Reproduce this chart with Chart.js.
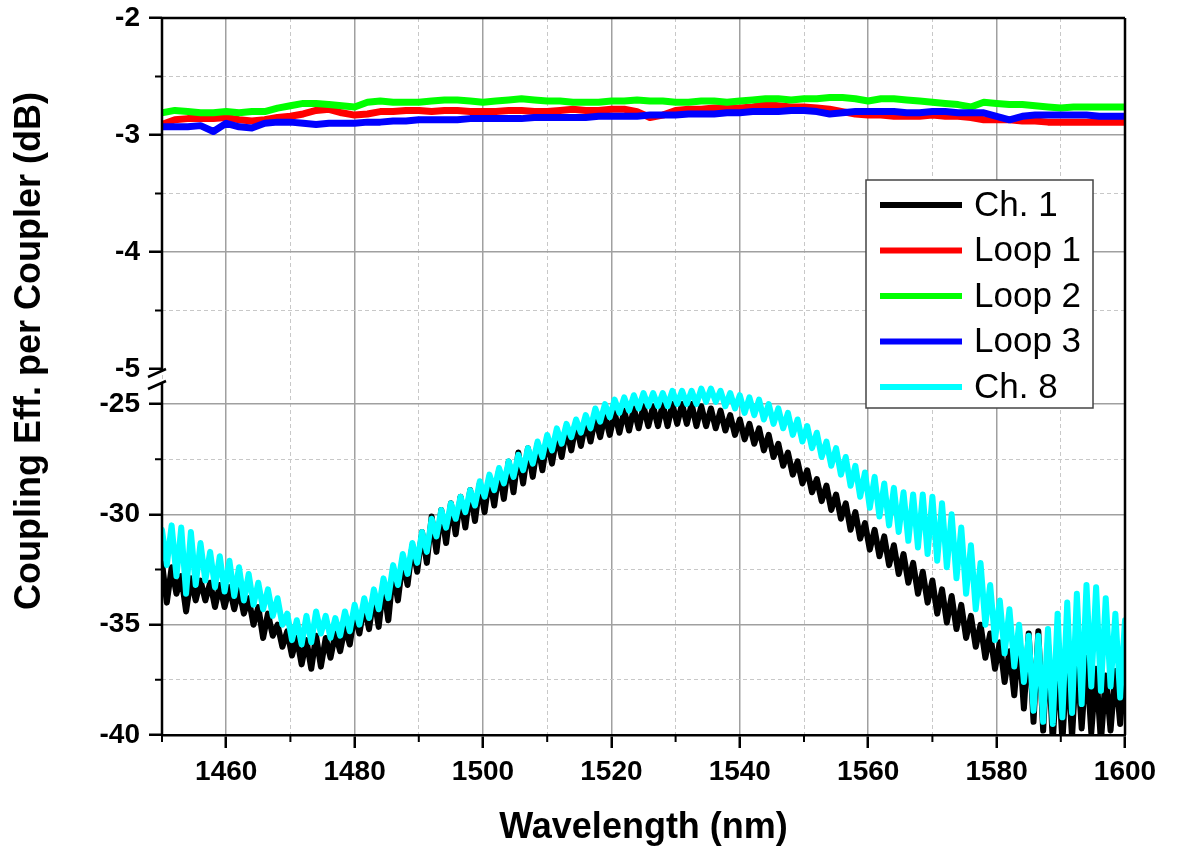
<!DOCTYPE html>
<html>
<head>
<meta charset="utf-8">
<script src="https://cdn.jsdelivr.net/npm/chart.js@4.4.0/dist/chart.umd.min.js"></script>
<style>
  html, body { margin: 0; padding: 0; background: #fff; }
  #chart { display: block; }
</style>
</head>
<body>
<canvas id="chart" width="1178" height="850"></canvas>
<script>
// Ch. 1 / Ch. 8 are sampled every 0.75 nm (fringe peak, trough, peak, ...)
const fineWl = Array.from({ length: 201 }, (_, i) => 1450 + i * 0.75);
// loop traces every 2 nm
const coarseWl = Array.from({ length: 76 }, (_, i) => 1450 + i * 2);

const ch1 = [
  -32.2, -34.0, -32.4, -33.6, -32.8, -34.4, -32.9, -33.9, -33.0, -33.9,
  -33.1, -34.2, -33.2, -34.2, -33.3, -34.3, -33.4, -34.5, -33.8, -35.0,
  -34.2, -35.6, -34.5, -35.5, -35.0, -36.0, -35.3, -36.4, -35.6, -36.8,
  -35.7, -37.0, -35.5, -36.9, -35.6, -36.5, -35.4, -36.2, -35.1, -35.9,
  -34.5, -35.4, -34.1, -35.2, -33.7, -35.1, -33.2, -34.8, -32.6, -33.9,
  -32.1, -33.2, -31.4, -32.6, -30.8, -32.2, -30.1, -31.7, -29.8, -31.3,
  -29.5, -30.9, -29.2, -30.6, -28.9, -30.3, -28.6, -29.9, -28.3, -29.6,
  -28.0, -29.3, -27.6, -29.0, -27.2, -28.6, -27.0, -28.3, -26.8, -28.0,
  -26.6, -27.7, -26.4, -27.4, -26.1, -27.1, -25.9, -26.9, -25.8, -26.7,
  -25.6, -26.5, -25.5, -26.4, -25.4, -26.3, -25.3, -26.2, -25.2, -26.1,
  -25.1, -26.0, -25.1, -26.0, -25.0, -26.0, -25.0, -25.9, -25.0, -25.9,
  -25.0, -26.0, -25.1, -26.0, -25.2, -26.1, -25.3, -26.2, -25.5, -26.4,
  -25.7, -26.6, -25.9, -26.8, -26.1, -27.1, -26.4, -27.4, -26.8, -27.8,
  -27.2, -28.2, -27.6, -28.6, -28.0, -29.0, -28.4, -29.4, -28.7, -29.8,
  -29.1, -30.2, -29.5, -30.7, -29.9, -31.1, -30.4, -31.6, -30.7, -31.9,
  -31.0, -32.3, -31.4, -32.7, -31.8, -33.1, -32.2, -33.6, -32.6, -34.0,
  -33.0, -34.5, -33.4, -34.9, -33.7, -35.2, -34.1, -35.6, -34.6, -36.0,
  -35.0, -36.5, -35.4, -37.0, -35.8, -37.6, -36.2, -38.2, -35.7, -38.8,
  -35.4, -39.4, -35.3, -39.8, -35.8, -40.3, -36.4, -40.3, -36.5, -40.1,
  -36.3, -39.7, -36.5, -39.9, -37.0, -40.3, -37.3, -39.8, -37.1, -39.5,
  -36.6
];

const ch8 = [
  -30.7, -32.3, -30.5, -32.8, -30.6, -33.6, -30.8, -33.2, -31.3, -33.0,
  -31.7, -33.3, -31.9, -33.5, -32.1, -33.7, -32.4, -33.9, -32.7, -34.1,
  -33.1, -34.3, -33.4, -34.6, -33.8, -35.0, -34.5, -35.7, -34.8, -35.9,
  -34.6, -35.8, -34.4, -35.4, -34.6, -35.6, -34.7, -35.5, -34.4, -35.3,
  -34.1, -35.0, -33.8, -34.7, -33.4, -34.3, -32.9, -33.8, -32.3, -33.2,
  -31.8, -32.7, -31.3, -32.2, -30.8, -31.7, -30.2, -31.0, -29.8, -30.6,
  -29.5, -30.2, -29.2, -29.9, -28.9, -29.6, -28.5, -29.2, -28.2, -28.9,
  -27.9, -28.6, -27.6, -28.3, -27.3, -28.0, -27.0, -27.7, -26.7, -27.4,
  -26.4, -27.1, -26.1, -26.8, -25.9, -26.5, -25.7, -26.3, -25.5, -26.1,
  -25.2, -25.8, -25.0, -25.6, -24.8, -25.4, -24.7, -25.3, -24.6, -25.2,
  -24.5, -25.1, -24.5, -25.1, -24.5, -25.1, -24.4, -25.0, -24.4, -25.0,
  -24.4, -25.0, -24.3, -24.9, -24.3, -24.9, -24.4, -25.1, -24.5, -25.2,
  -24.6, -25.4, -24.7, -25.5, -24.8, -25.7, -25.0, -25.9, -25.2, -26.1,
  -25.4, -26.4, -25.7, -26.7, -26.0, -27.0, -26.3, -27.4, -26.7, -27.8,
  -27.0, -28.2, -27.4, -28.7, -27.8, -29.2, -28.1, -29.7, -28.3, -30.1,
  -28.6, -30.5, -28.8, -30.8, -29.0, -31.2, -29.1, -31.5, -29.1, -31.8,
  -29.2, -32.1, -29.5, -32.4, -30.0, -32.9, -30.6, -33.6, -31.4, -34.3,
  -32.2, -35.0, -33.2, -35.7, -33.9, -36.3, -34.3, -36.9, -35.0, -37.6,
  -35.5, -38.9, -35.5, -39.4, -35.2, -39.5, -34.5, -39.2, -34.0, -39.0,
  -33.6, -38.6, -33.2, -37.8, -33.3, -38.0, -33.8, -37.8, -34.5, -38.3,
  -34.8
];

const loop1 = [
  -2.91, -2.87, -2.86, -2.86, -2.86, -2.85, -2.87, -2.88, -2.87, -2.85,
  -2.84, -2.82, -2.79, -2.78, -2.81, -2.83, -2.82, -2.80, -2.80, -2.79,
  -2.79, -2.80, -2.79, -2.79, -2.80, -2.80, -2.80, -2.79, -2.79, -2.80,
  -2.80, -2.79, -2.78, -2.79, -2.79, -2.78, -2.78, -2.80, -2.85, -2.83,
  -2.79, -2.78, -2.78, -2.77, -2.77, -2.77, -2.76, -2.74, -2.75, -2.76,
  -2.76, -2.77, -2.78, -2.80, -2.82, -2.83, -2.83, -2.84, -2.84, -2.84,
  -2.83, -2.84, -2.84, -2.85, -2.87, -2.87, -2.87, -2.88, -2.88, -2.89,
  -2.89, -2.89, -2.89, -2.89, -2.89, -2.89
];

const loop2 = [
  -2.81, -2.79, -2.80, -2.81, -2.81, -2.80, -2.81, -2.80, -2.80, -2.77,
  -2.75, -2.73, -2.73, -2.74, -2.75, -2.76, -2.72, -2.71, -2.72, -2.72,
  -2.72, -2.71, -2.70, -2.70, -2.71, -2.72, -2.71, -2.70, -2.69, -2.70,
  -2.71, -2.71, -2.72, -2.72, -2.72, -2.71, -2.71, -2.70, -2.71, -2.71,
  -2.72, -2.72, -2.71, -2.71, -2.72, -2.71, -2.70, -2.69, -2.69, -2.70,
  -2.69, -2.69, -2.68, -2.68, -2.69, -2.71, -2.69, -2.69, -2.70, -2.71,
  -2.72, -2.73, -2.74, -2.76, -2.72, -2.73, -2.74, -2.74, -2.75, -2.76,
  -2.77, -2.76, -2.76, -2.76, -2.76, -2.76
];

const loop3 = [
  -2.93, -2.93, -2.93, -2.92, -2.97, -2.90, -2.93, -2.94, -2.90, -2.89,
  -2.89, -2.90, -2.91, -2.90, -2.90, -2.90, -2.89, -2.89, -2.88, -2.88,
  -2.87, -2.87, -2.87, -2.87, -2.86, -2.86, -2.86, -2.86, -2.86, -2.85,
  -2.85, -2.85, -2.85, -2.85, -2.84, -2.84, -2.84, -2.84, -2.83, -2.83,
  -2.83, -2.82, -2.82, -2.82, -2.81, -2.81, -2.80, -2.80, -2.80, -2.79,
  -2.79, -2.80, -2.82, -2.81, -2.80, -2.80, -2.80, -2.80, -2.81, -2.81,
  -2.80, -2.80, -2.81, -2.81, -2.81, -2.84, -2.87, -2.84, -2.83, -2.83,
  -2.83, -2.83, -2.83, -2.84, -2.84, -2.84
];

const seriesNames = ['Ch. 1', 'Loop 1', 'Loop 2', 'Loop 3', 'Ch. 8'];
const seriesColors = ['#000000', '#ff0000', '#00ff00', '#0000ff', '#00ffff'];

const FONT = "'Liberation Sans', Arial, Helvetica, sans-serif";
const MAJOR_GRID = '#a0a0a0';
const MINOR_GRID = '#c8c8c8';
const NONE = 'rgba(0,0,0,0)';

function main() {
  const canvas = document.querySelector('#chart');

  const pts = (xs, ys) => ys.map((y, i) => ({ x: xs[i], y: y }));

  const isMajorX = v => Math.abs((v - 1460) % 20) < 1e-6;
  const yStep = { yTop: 1, yBot: 5 };
  function isMajorY(id, v) {
    const r = v / yStep[id];
    return Math.abs(r - Math.round(r)) < 1e-6;
  }

  const tickFont = { family: FONT, size: 28, weight: 'bold' };

  function yAxis(id, min, max, step, weight) {
    return {
      type: 'linear',
      position: 'left',
      stack: 'left',
      stackWeight: weight,
      min: min,
      max: max,
      ticks: {
        stepSize: step,
        includeBounds: false,
        autoSkip: false,
        padding: 9,
        color: '#000',
        font: tickFont,
        callback: v => isMajorY(id, v) ? String(v) : ''
      },
      grid: {
        color: c => {
          if (!c.tick) return NONE;
          if (Math.abs(c.tick.value + 5) < 1e-6) return NONE;
          return isMajorY(id, c.tick.value) ? MAJOR_GRID : MINOR_GRID;
        },
        lineWidth: c => c.tick && isMajorY(id, c.tick.value) ? 1.5 : 1,
        tickLength: 13,
        tickWidth: 2.5,
        tickColor: c => c.tick && isMajorY(id, c.tick.value) ? '#000' : NONE
      },
      border: {
        display: false,
        dash: c => (c.tick && !isMajorY(id, c.tick.value)) ? [4, 3] : []
      },
      // fixed axis width; drop the label overhang so the plot starts at the layout padding
      afterFit: s => {
        s.width = 162;
        s.paddingTop = 0;
        s.paddingBottom = 0;
      }
    };
  }

  // frame, minor ticks, axis break, y title and legend box
  const decor = {
    id: 'decor',
    afterDraw(chart) {
      const { ctx, chartArea: a, scales } = chart;
      ctx.save();
      ctx.strokeStyle = '#000';
      ctx.lineCap = 'butt';

      // minor ticks
      ctx.lineWidth = 2;
      ctx.beginPath();
      scales.x.ticks.forEach(t => {
        if (isMajorX(t.value)) return;
        const px = scales.x.getPixelForValue(t.value);
        ctx.moveTo(px, a.bottom);
        ctx.lineTo(px, a.bottom + 7);
      });
      ['yTop', 'yBot'].forEach(id => {
        scales[id].ticks.forEach(t => {
          if (isMajorY(id, t.value)) return;
          const py = scales[id].getPixelForValue(t.value);
          ctx.moveTo(a.left, py);
          ctx.lineTo(a.left - 7, py);
        });
      });
      ctx.stroke();

      // frame top / right, left axis with a break
      const b = scales.yTop.bottom;
      ctx.lineWidth = 2.5;
      ctx.beginPath();
      ctx.moveTo(a.left, a.top);
      ctx.lineTo(a.right, a.top);
      ctx.moveTo(a.right, a.top);
      ctx.lineTo(a.right, a.bottom);
      ctx.moveTo(a.left, a.top);
      ctx.lineTo(a.left, b - 7);
      ctx.moveTo(a.left, b + 5);
      ctx.lineTo(a.left, a.bottom);
      ctx.moveTo(a.left - 14, b - 1);
      ctx.lineTo(a.left + 4, b - 9);
      ctx.moveTo(a.left - 14, b + 11);
      ctx.lineTo(a.left + 4, b + 3);
      ctx.stroke();

      // y title
      ctx.save();
      ctx.translate(30, 351);
      ctx.rotate(-Math.PI / 2);
      ctx.fillStyle = '#000';
      ctx.font = 'bold 36px ' + FONT;
      ctx.textAlign = 'center';
      ctx.textBaseline = 'middle';
      ctx.fillText('Coupling Eff. per Coupler (dB)', 0, 0);
      ctx.restore();

      // legend
      const lx = 866, ly = 180, lw = 227, lh = 228;
      ctx.fillStyle = '#fff';
      ctx.fillRect(lx, ly, lw, lh);
      ctx.lineWidth = 1.5;
      ctx.strokeStyle = '#444';
      ctx.strokeRect(lx, ly, lw, lh);
      ctx.font = '35px ' + FONT;
      ctx.textAlign = 'left';
      ctx.textBaseline = 'middle';
      chart.data.datasets.forEach((ds, i) => {
        const cy = 205 + i * 45.5;
        ctx.strokeStyle = ds.borderColor;
        ctx.lineWidth = 6;
        ctx.beginPath();
        ctx.moveTo(880, cy);
        ctx.lineTo(962, cy);
        ctx.stroke();
        ctx.fillStyle = '#000';
        ctx.fillText(ds.label, 974, cy + 1);
      });
      ctx.restore();
    }
  };

  const common = {
    pointRadius: 0,
    tension: 0,
    fill: false,
    borderJoinStyle: 'round',
    borderCapStyle: 'round'
  };

  new Chart(canvas.getContext('2d'), {
    type: 'line',
    data: {
      datasets: [
        { ...common, label: seriesNames[0], data: pts(fineWl, ch1), yAxisID: 'yBot', borderColor: seriesColors[0], borderWidth: 6, order: 4 },
        { ...common, label: seriesNames[1], data: pts(coarseWl, loop1), yAxisID: 'yTop', borderColor: seriesColors[1], borderWidth: 7, order: 3 },
        { ...common, label: seriesNames[2], data: pts(coarseWl, loop2), yAxisID: 'yTop', borderColor: seriesColors[2], borderWidth: 7, order: 2 },
        { ...common, label: seriesNames[3], data: pts(coarseWl, loop3), yAxisID: 'yTop', borderColor: seriesColors[3], borderWidth: 7, order: 1 },
        { ...common, label: seriesNames[4], data: pts(fineWl, ch8), yAxisID: 'yBot', borderColor: seriesColors[4], borderWidth: 6, order: 0 }
      ]
    },
    options: {
      responsive: false,
      animation: false,
      devicePixelRatio: 1,
      layout: { padding: { top: 18, right: 53, bottom: 0, left: 0 } },
      plugins: {
        legend: { display: false },
        tooltip: { enabled: false }
      },
      scales: {
        x: {
          type: 'linear',
          min: 1450,
          max: 1600,
          ticks: {
            stepSize: 10,
            autoSkip: false,
            maxRotation: 0,
            minRotation: 0,
            padding: 7,
            color: '#000',
            font: tickFont,
            callback: v => isMajorX(v) ? String(v) : ''
          },
          grid: {
            color: c => c.tick ? (isMajorX(c.tick.value) ? MAJOR_GRID : MINOR_GRID) : NONE,
            lineWidth: c => c.tick && isMajorX(c.tick.value) ? 1.5 : 1,
            tickLength: 13,
            tickWidth: 2.5,
            tickColor: c => c.tick && isMajorX(c.tick.value) ? '#000' : NONE
          },
          border: {
            display: true,
            color: '#000',
            width: 2.5,
            dash: c => (c.tick && !isMajorX(c.tick.value)) ? [4, 3] : []
          },
          title: {
            display: true,
            text: 'Wavelength (nm)',
            color: '#000',
            font: { family: FONT, size: 36, weight: 'bold' },
            padding: { top: 0, bottom: 0 }
          },
          afterFit: s => { s.height = 115; }
        },
        yBot: yAxis('yBot', -40, -23.82, 2.5, 357),
        yTop: yAxis('yTop', -5.077, -2, 0.5, 360)
      }
    },
    plugins: [decor]
  });
}

main();
</script>
</body>
</html>
